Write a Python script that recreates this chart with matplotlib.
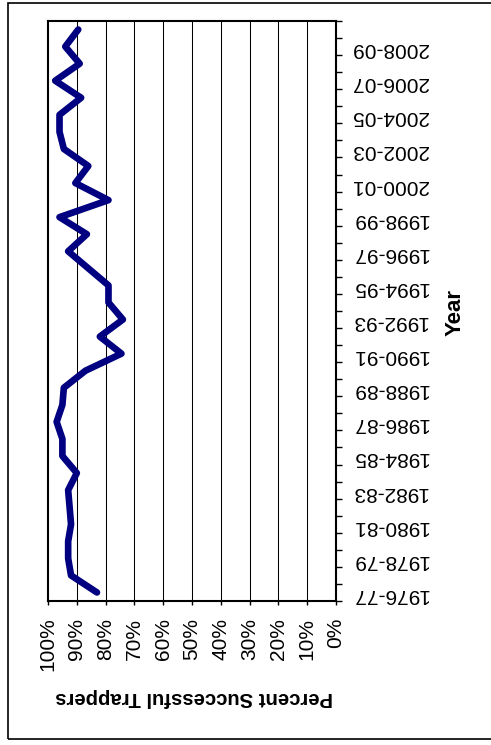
import numpy as np
import matplotlib.pyplot as plt
from matplotlib.patches import Rectangle
from matplotlib.ticker import FixedLocator

plt.rcParams['font.family'] = 'sans-serif'
plt.rcParams['font.sans-serif'] = ['Liberation Sans', 'DejaVu Sans']

seasons = ["1976-77", "1977-78", "1978-79", "1979-80", "1980-81", "1981-82",
           "1982-83", "1983-84", "1984-85", "1985-86", "1986-87", "1987-88",
           "1988-89", "1989-90", "1990-91", "1991-92", "1992-93", "1993-94",
           "1994-95", "1995-96", "1996-97", "1997-98", "1998-99", "1999-00",
           "2000-01", "2001-02", "2002-03", "2003-04", "2004-05", "2005-06",
           "2006-07", "2007-08", "2008-09", "2009-10"]
success = [83, 92, 93, 93, 92, 92.5, 93, 90, 95, 95, 97, 95, 94.5, 87, 74.5,
           82, 74, 79, 79, 86, 93, 86.5, 96, 79, 90.5, 86, 94.5, 96, 96, 88.5,
           97.5, 89, 94, 89.5]
pct_ticks = list(range(0, 101, 10))

W, H = 491, 745
fig = plt.figure(figsize=(W / 100, H / 100), dpi=100)
ax = fig.add_axes([48 / W, 1 - 601 / H, (336 - 48) / W, (601 - 21) / H])

y = np.arange(len(seasons))
ax.plot(success, y, color='#000080', linewidth=4.8, solid_joinstyle='round',
        solid_capstyle='round', zorder=3)

ax.set_xlim(100, 0)
ax.set_ylim(-0.5, len(seasons) - 0.5)

# percent axis (bottom)
ax.set_xticks(pct_ticks)
ax.set_xticklabels([f"{p}%" for p in pct_ticks], rotation=90, fontsize=15)
ax.tick_params(axis='x', direction='out', length=3, width=1, pad=9)
for p in pct_ticks[1:-1]:
    ax.axvline(p, color='black', linewidth=0.75, zorder=1)

# season axis (right)
ax.yaxis.tick_right()
ax.set_yticks(y[::2])
ax.set_yticklabels(seasons[::2], rotation=180, fontsize=15)
ax.yaxis.set_minor_locator(FixedLocator(np.arange(-0.5, len(seasons), 1)))
ax.tick_params(axis='y', which='major', length=0, pad=11)
ax.tick_params(axis='y', which='minor', direction='out', length=4, width=1)

for s in ax.spines.values():
    s.set_linewidth(1.5)

fig.text(194 / W, 1 - 698 / H, "Percent Successful Trappers", rotation=180,
         fontsize=14.6, fontweight='bold', ha='center', va='center')
fig.text(455 / W, 1 - 312 / H, "Year", rotation=90,
         fontsize=16, fontweight='bold', ha='center', va='center')

fig.patches.append(Rectangle((8 / W, 1 - 739 / H), 500 / W, 736 / H,
                             transform=fig.transFigure, fill=False,
                             edgecolor='black', linewidth=1.2))

fig.savefig("out.png", dpi=100)
